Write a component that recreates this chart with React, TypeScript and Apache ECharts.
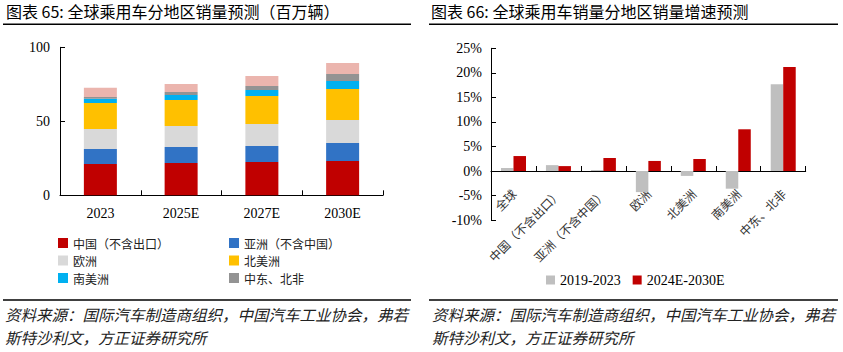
import React, { useEffect, useRef } from "react";
import * as echarts from "echarts";

// Left chart: global passenger car sales by region (million units)
const years = ["2023", "2025E", "2027E", "2030E"];
const chinaExExport = [21.2, 21.9, 22.5, 23.2];
const asiaExChina = [10.1, 10.8, 10.8, 12.2];
const europe = [13.5, 14.1, 14.9, 15.5];
const northAmerica = [17.6, 17.6, 18.9, 20.9];
const southAmerica = [2.9, 3.4, 4.1, 5.5];
const middleEastNorthAfrica = [1.1, 2.0, 2.7, 4.7];
const others = [6.3, 5.4, 6.7, 7.4];

// Right chart: growth rate by region (%)
const regions = ["全球", "中国（不含出口）", "亚洲（不含中国）", "欧洲", "北美洲", "南美洲", "中东、北非"];
const growth2019_2023 = [0.6, 1.2, 0.2, -4.3, -1.0, -3.6, 17.7];
const growth2024_2030 = [3.05, 1.0, 2.65, 2.05, 2.45, 8.5, 21.2];

const SERIF = "Liberation Serif";
const CJK = "Noto Sans CJK SC";

export default function App() {
  const ref = useRef<HTMLDivElement>(null);
  useEffect(() => {
    if (!ref.current) return;
    const chart = echarts.init(ref.current, undefined, { renderer: "svg" });
    const stackSeries = [
      { name: "中国（不含出口）", data: chinaExExport, color: "#C00000" },
      { name: "亚洲（不含中国）", data: asiaExChina, color: "#3173C5" },
      { name: "欧洲", data: europe, color: "#D9D9D9" },
      { name: "北美洲", data: northAmerica, color: "#FFC000" },
      { name: "南美洲", data: southAmerica, color: "#00B0F0" },
      { name: "中东、北非", data: middleEastNorthAfrica, color: "#939393" },
      { name: "其他", data: others, color: "#EBB5AE" },
    ].map((s) => ({
      type: "bar",
      name: s.name,
      data: s.data,
      stack: "total",
      xAxisIndex: 0,
      yAxisIndex: 0,
      barWidth: 33,
      itemStyle: { color: s.color },
    }));

    const axisLine = { show: true, lineStyle: { color: "#000", width: 1 } };
    const legendText = { fontFamily: CJK, fontSize: 12, color: "#222", lineHeight: 12 };

    chart.setOption({
      animation: false,
      backgroundColor: "#fff",
      grid: [
        { left: 60, right: 460, top: 47.3, bottom: 156.7 },
        { left: 491, right: 37.3, top: 48.3, bottom: 131.9 },
      ],
      xAxis: [
        {
          type: "category",
          gridIndex: 0,
          data: years,
          axisLine,
          axisTick: { show: true, inside: true, length: 5, lineStyle: { color: "#000" } },
          axisLabel: { fontFamily: SERIF, fontSize: 14, color: "#000", margin: 11 },
        },
        {
          type: "category",
          gridIndex: 1,
          data: regions,
          axisLine: { ...axisLine, onZero: true },
          axisTick: { show: true, inside: true, length: 5, lineStyle: { color: "#000" } },
          axisLabel: { fontFamily: CJK, fontSize: 12, color: "#333", rotate: 45, margin: -29, interval: 0 },
        },
      ],
      yAxis: [
        {
          type: "value",
          gridIndex: 0,
          min: 0,
          max: 100,
          interval: 50,
          axisLine,
          axisTick: { show: true, inside: true, length: 5, lineStyle: { color: "#000" } },
          splitLine: { show: false },
          axisLabel: { fontFamily: SERIF, fontSize: 14, color: "#000", margin: 10 },
        },
        {
          type: "value",
          gridIndex: 1,
          min: -10,
          max: 25,
          interval: 5,
          axisLine,
          axisTick: { show: true, inside: true, length: 5, lineStyle: { color: "#000" } },
          splitLine: { show: false },
          axisLabel: { fontFamily: SERIF, fontSize: 14, color: "#000", margin: 9, formatter: "{value}%" },
        },
      ],
      legend: [
        {
          data: ["中国（不含出口）", "欧洲", "南美洲"],
          orient: "vertical",
          left: 53,
          top: 232,
          itemWidth: 10,
          itemHeight: 10,
          itemGap: 5.5,
          icon: "rect",
          textStyle: legendText,
          selectedMode: false,
        },
        {
          data: ["亚洲（不含中国）", "北美洲", "中东、北非"],
          orient: "vertical",
          left: 224,
          top: 232,
          itemWidth: 10,
          itemHeight: 10,
          itemGap: 5.5,
          icon: "rect",
          textStyle: legendText,
          selectedMode: false,
        },
        {
          data: ["2019-2023", "2024E-2030E"],
          orient: "horizontal",
          left: 541,
          top: 268,
          itemWidth: 9,
          itemHeight: 9,
          itemGap: 12,
          icon: "rect",
          textStyle: { fontFamily: SERIF, fontSize: 14, color: "#000" },
          selectedMode: false,
        },
      ],
      series: [
        ...stackSeries,
        {
          type: "bar",
          name: "2019-2023",
          data: growth2019_2023,
          xAxisIndex: 1,
          yAxisIndex: 1,
          barWidth: 12.5,
          barGap: "0%",
          itemStyle: { color: "#BFBFBF" },
        },
        {
          type: "bar",
          name: "2024E-2030E",
          data: growth2024_2030,
          xAxisIndex: 1,
          yAxisIndex: 1,
          barWidth: 12.5,
          barGap: "0%",
          itemStyle: { color: "#C00000" },
        },
      ],
      graphic: [
        {
          type: "text",
          left: 6,
          top: 3,
          style: { text: "图表 65: 全球乘用车分地区销量预测（百万辆）", font: `16px "${CJK}"`, fill: "#000" },
        },
        {
          type: "text",
          left: 431,
          top: 3,
          style: { text: "图表 66: 全球乘用车销量分地区销量增速预测", font: `16px "${CJK}"`, fill: "#000" },
        },
        { type: "line", shape: { x1: 3, y1: 24.3, x2: 411, y2: 24.3 }, style: { stroke: "#000", lineWidth: 1.5 } },
        { type: "line", shape: { x1: 429, y1: 24.3, x2: 838, y2: 24.3 }, style: { stroke: "#000", lineWidth: 1.5 } },
        { type: "line", shape: { x1: 3, y1: 300, x2: 411, y2: 300 }, style: { stroke: "#000", lineWidth: 1.5 } },
        { type: "line", shape: { x1: 429, y1: 300, x2: 838, y2: 300 }, style: { stroke: "#000", lineWidth: 1.5 } },
        {
          type: "text",
          left: 5,
          top: 306,
          style: { text: "资料来源：国际汽车制造商组织，中国汽车工业协会，弗若", font: `italic 15.5px "${CJK}"`, fill: "#222" },
        },
        {
          type: "text",
          left: 5,
          top: 329,
          style: { text: "斯特沙利文，方正证券研究所", font: `italic 15.5px "${CJK}"`, fill: "#222" },
        },
        {
          type: "text",
          left: 432,
          top: 306,
          style: { text: "资料来源：国际汽车制造商组织，中国汽车工业协会，弗若", font: `italic 15.5px "${CJK}"`, fill: "#222" },
        },
        {
          type: "text",
          left: 432,
          top: 329,
          style: { text: "斯特沙利文，方正证券研究所", font: `italic 15.5px "${CJK}"`, fill: "#222" },
        },
      ],
    });
    return () => chart.dispose();
  }, []);
  return <div ref={ref} style={{ position: "fixed", left: 0, top: 0, width: 843, height: 352 }} />;
}
